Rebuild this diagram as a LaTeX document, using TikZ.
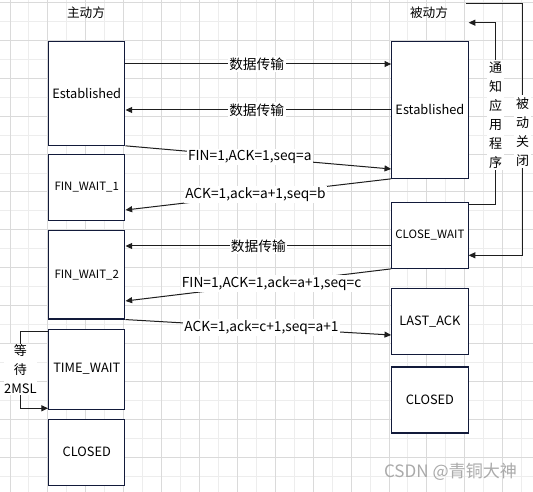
\documentclass[tikz,border=0pt]{standalone}
\usepackage{fontspec}
\setmainfont{Noto Sans CJK SC}
\usetikzlibrary{arrows.meta}
\definecolor{boxc}{RGB}{18,26,58}
\definecolor{linec}{RGB}{30,30,30}
\definecolor{gdark}{RGB}{218,218,218}
\definecolor{glight}{RGB}{237,237,237}
\definecolor{wm}{RGB}{170,170,170}
\begin{document}
\begin{tikzpicture}[x=0.75pt,y=-0.75pt,
  box/.style={draw=boxc, line width=0.8pt, fill=white, minimum width=57.3pt, inner sep=0pt, text=black, font=\fontsize{9.6}{11}\selectfont},
  sbox/.style={box, font=\fontsize{8.6}{10}\selectfont},
  conn/.style={draw=linec, line width=0.75pt},
  arr/.style={conn, -{Triangle[length=5pt,width=4.5pt]}},
  lab/.style={fill=white, inner sep=1pt, text=black, font=\fontsize{10.3}{12}\selectfont},
  vlab/.style={fill=white, inner sep=1.5pt, align=center, text=black, font=\fontsize{9.75}{14.25}\selectfont},
  ttl/.style={text=black, font=\fontsize{9.5}{11}\selectfont},
  gridd/.style={draw=gdark, line width=0.75pt},
  gridl/.style={draw=glight, line width=0.75pt},
]
\useasboundingbox (0,0) rectangle (533,492);
\fill[white] (0,0) rectangle (533,492);
% grid
\foreach \m in {0,...,13} {
  \draw[gridl] ({28.95+37.9*\m},0) -- ({28.95+37.9*\m},492);
}
\foreach \m in {0,...,12} {
  \draw[gridl] (0,{21.45+37.9*\m}) -- (533,{21.45+37.9*\m});
}
\foreach \m in {0,...,13} {
  \draw[gridd] ({10+37.9*\m},0) -- ({10+37.9*\m},492);
}
\foreach \m in {0,...,12} {
  \draw[gridd] (0,{2.5+37.9*\m}) -- (533,{2.5+37.9*\m});
}
% titles
\node[ttl] (tA) at (86,13) {主动方};
\node[ttl] (tB) at (429,13) {被动方};
% left boxes
\node[box, minimum height=78pt] (LEst) at (86.75,93.3) {Established};
\node[sbox, minimum height=49.5pt] (FW1) at (86.75,187.2) {FIN\_WAIT\_1};
\node[sbox, minimum height=66.5pt] (FW2) at (86.75,274.7) {FIN\_WAIT\_2};
\node[box, minimum height=60pt] (TW) at (86.75,369.2) {TIME\_WAIT};
\node[box, minimum height=49.5pt] (LCl) at (86.75,452.2) {CLOSED};
% right boxes
\node[box, minimum height=102.75pt] (REst) at (429.9,109.8) {Established};
\node[sbox, minimum height=49.4pt] (CW) at (429.9,235.4) {CLOSE\_WAIT};
\node[box, minimum height=49.5pt] (LA) at (429.9,321.3) {LAST\_ACK};
\node[box, minimum height=49.5pt] (RCl) at (429.9,400) {CLOSED};
% messages
\draw[arr] (LEst.east |- 0,64) -- node[lab,pos=0.494] (d1) {数据传输} (REst.west |- 0,64);
\draw[arr] (REst.west |- 0,110) -- node[lab,pos=0.506] (d2) {数据传输} (LEst.east |- 0,110);
\draw[arr] (LEst.south east) -- node[lab,pos=0.468] (f1) {FIN=1,ACK=1,seq=a} (REst.west |- 0,169);
\draw[arr] (REst.south west) -- node[lab,pos=0.511] (a1) {ACK=1,ack=a+1,seq=b} (FW1.east |- 0,210);
\draw[arr] (CW.west |- 0,246) -- node[lab,pos=0.5] (d3) {数据传输} (FW2.east |- 0,246);
\draw[arr] (CW.south west) -- node[lab,pos=0.45] (f2) {FIN=1,ACK=1,ack=a+1,seq=c} (FW2.east |- 0,301);
\draw[arr] (FW2.south east) -- node[lab,pos=0.512] (a2) {ACK=1,ack=c+1,seq=a+1} (LA.west |- 0,335);
% notify application
\draw[arr] (CW.east |- 0,204.3) -| (495.7,22.7) -- (REst.east |- 0,22.7);
\node[vlab] (n1) at (495.7,114.8) {通\\知\\应\\用\\程\\序};
% passive close
\coordinate (pcS) at (465.7,3.3);
\draw[arr] (pcS) -| (522.7,255.3) -- (CW.east |- 0,255.3);
\node[vlab] (n2) at (522.7,131.7) {被\\动\\关\\闭};
% wait 2MSL
\draw[arr] (TW.west |- 0,331.7) -| (20.7,408.3) -- (TW.west |- 0,408.3);
\node[vlab, inner sep=0.5pt] (n3) at (20.5,369.5) {等\\待\\2MSL};
% watermark
\node[text=wm, font=\fontsize{12.8}{14}\selectfont] (wmk) at (450.5,471.7) {CSDN @青铜大神};
\end{tikzpicture}
\end{document}
